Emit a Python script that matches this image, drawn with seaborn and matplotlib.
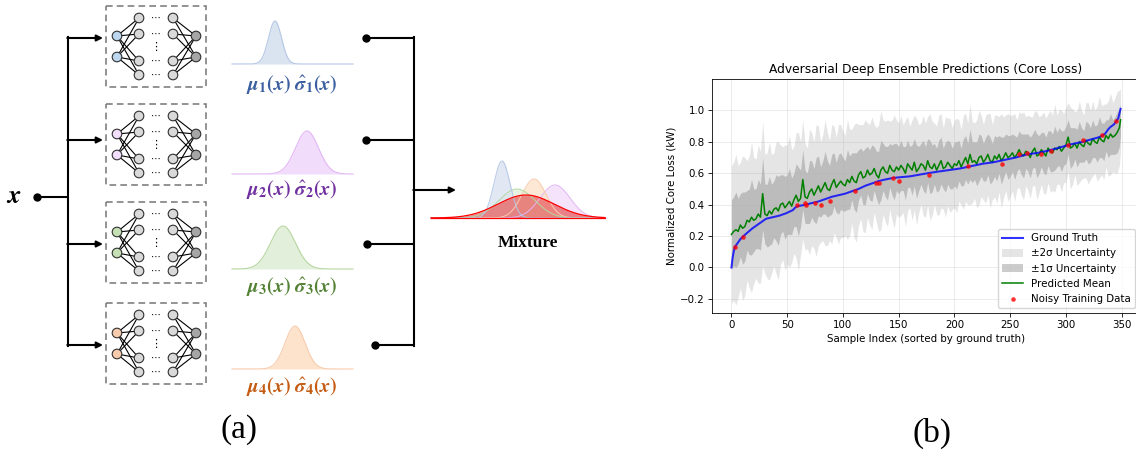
import numpy as np
import matplotlib
matplotlib.use("Agg")
import matplotlib.pyplot as plt
import seaborn as sns
from matplotlib.patches import Circle, Rectangle

# ---------------- data ----------------
sample_idx = list(range(0, 350, 2)) + [349]
pred_mean = [
    0.21, 0.23, 0.24, 0.23, 0.27, 0.25, 0.26, 0.30, 0.29, 0.32, 0.30, 0.31, 0.34, 0.32, 0.47, 0.34, 0.33, 0.36, 0.34, 0.37, 0.38, 0.36, 0.40, 0.41, 0.38,
    0.40, 0.42, 0.39, 0.43, 0.46, 0.42, 0.44, 0.56, 0.45, 0.44, 0.48, 0.50, 0.46, 0.49, 0.52, 0.48, 0.51, 0.54, 0.50, 0.49, 0.53, 0.56, 0.51, 0.53, 0.55,
    0.53, 0.52, 0.56, 0.54, 0.58, 0.55, 0.54, 0.59, 0.61, 0.57, 0.58, 0.62, 0.59, 0.60, 0.63, 0.59, 0.57, 0.62, 0.64, 0.61, 0.60, 0.65, 0.62, 0.61, 0.64,
    0.62, 0.65, 0.63, 0.60, 0.66, 0.64, 0.62, 0.67, 0.61, 0.63, 0.66, 0.65, 0.62, 0.68, 0.64, 0.63, 0.66, 0.62, 0.65, 0.68, 0.63, 0.64, 0.67, 0.65, 0.63,
    0.66, 0.65, 0.68, 0.64, 0.67, 0.70, 0.66, 0.72, 0.67, 0.68, 0.66, 0.70, 0.71, 0.67, 0.69, 0.72, 0.68, 0.67, 0.71, 0.69, 0.72, 0.68, 0.70, 0.73, 0.70,
    0.71, 0.73, 0.70, 0.72, 0.75, 0.72, 0.71, 0.74, 0.73, 0.70, 0.74, 0.76, 0.71, 0.72, 0.75, 0.73, 0.71, 0.76, 0.74, 0.73, 0.76, 0.75, 0.77, 0.74, 0.76,
    0.78, 0.83, 0.76, 0.77, 0.79, 0.76, 0.80, 0.78, 0.77, 0.81, 0.79, 0.78, 0.82, 0.80, 0.79, 0.83, 0.81, 0.80, 0.84, 0.82, 0.85, 0.83, 0.84, 0.86, 0.89,
    0.94]
pred_std = [
    0.22, 0.22, 0.24, 0.21, 0.20, 0.23, 0.22, 0.19, 0.21, 0.24, 0.20, 0.19, 0.22, 0.21, 0.23, 0.19, 0.20, 0.22, 0.19, 0.18, 0.21, 0.22, 0.19, 0.18, 0.20,
    0.19, 0.21, 0.18, 0.17, 0.20, 0.22, 0.18, 0.19, 0.17, 0.16, 0.20, 0.18, 0.17, 0.21, 0.19, 0.16, 0.17, 0.20, 0.18, 0.16, 0.19, 0.17, 0.16, 0.19, 0.18,
    0.17, 0.16, 0.19, 0.17, 0.15, 0.18, 0.19, 0.16, 0.15, 0.17, 0.18, 0.15, 0.16, 0.18, 0.14, 0.15, 0.17, 0.19, 0.15, 0.16, 0.17, 0.14, 0.16, 0.18, 0.15,
    0.15, 0.16, 0.14, 0.17, 0.15, 0.13, 0.16, 0.15, 0.17, 0.14, 0.13, 0.16, 0.15, 0.14, 0.17, 0.15, 0.13, 0.14, 0.16, 0.15, 0.13, 0.16, 0.14, 0.15, 0.13,
    0.14, 0.15, 0.13, 0.12, 0.15, 0.14, 0.13, 0.16, 0.13, 0.12, 0.14, 0.15, 0.13, 0.12, 0.14, 0.13, 0.15, 0.12, 0.13, 0.14, 0.12, 0.15, 0.13, 0.12, 0.14,
    0.13, 0.12, 0.14, 0.11, 0.12, 0.13, 0.14, 0.11, 0.12, 0.13, 0.11, 0.12, 0.14, 0.12, 0.11, 0.13, 0.12, 0.11, 0.13, 0.12, 0.14, 0.11, 0.12, 0.13, 0.11,
    0.12, 0.11, 0.13, 0.12, 0.10, 0.12, 0.13, 0.11, 0.10, 0.12, 0.13, 0.11, 0.12, 0.10, 0.12, 0.13, 0.11, 0.12, 0.10, 0.12, 0.13, 0.11, 0.12, 0.13, 0.12,
    0.10]
gt_idx = [0, 1, 2, 3, 4, 6, 8, 10, 14, 19, 25, 31, 37, 43, 49, 55, 57, 59, 63, 67, 72, 78, 84, 90, 96, 102, 108,
          114, 120, 126, 132, 138, 145, 152, 160, 168, 176, 185, 195, 205, 215, 225, 235, 245, 255, 265, 275,
          285, 295, 305, 315, 325, 330, 335, 338, 340, 343, 345, 347, 348, 349]
gt_val = [0.00, 0.06, 0.10, 0.13, 0.14, 0.16, 0.18, 0.195, 0.22, 0.25, 0.28, 0.31, 0.32, 0.33, 0.345, 0.365, 0.38,
          0.39, 0.395, 0.40, 0.41, 0.42, 0.435, 0.45, 0.46, 0.47, 0.485, 0.50, 0.52, 0.535, 0.55, 0.56, 0.57,
          0.575, 0.58, 0.59, 0.60, 0.61, 0.62, 0.63, 0.645, 0.66, 0.67, 0.685, 0.70, 0.72, 0.73, 0.745, 0.765,
          0.785, 0.80, 0.82, 0.83, 0.85, 0.88, 0.895, 0.91, 0.93, 0.95, 0.98, 1.01]
noisy_idx = [3.5, 10.5, 59, 66, 67, 75, 80, 88, 111, 130, 132, 145, 150, 177, 212, 243, 258, 265, 278, 287, 302, 315, 332, 345]
noisy_val = [0.13, 0.195, 0.40, 0.41, 0.40, 0.41, 0.40, 0.42, 0.485, 0.54, 0.54, 0.57, 0.55, 0.59, 0.645, 0.66, 0.72,
             0.73, 0.72, 0.74, 0.78, 0.81, 0.845, 0.93]

# diagram content
member_ids = [1, 2, 3, 4]
member_colors = ["#3b5ea0", "#7030a0", "#548235", "#c55a11"]
input_node_colors = ["#bdd7ee", "#f2ddfb", "#c5e0b4", "#f8cbad"]
gauss_fill = ["#dae3f0", "#f2dcfb", "#e2efda", "#fde3cc"]
gauss_edge = ["#b4c7e7", "#e2b6f4", "#b5d7a0", "#f8cbad"]
gauss_mu = [275, 307, 283, 295]
gauss_sigma = [6.5, 11.5, 12.5, 10]
mix_mu = [502, 555, 517, 534]
mix_sigma = [8, 15, 18, 12]
mix_height = [57, 33, 29, 39]
mixture_mu, mixture_sigma, mixture_height = 526, 28, 23

# ---------------- figure ----------------
plt.rcParams["mathtext.fontset"] = "stix"
fig = plt.figure(figsize=(11.36, 4.59), dpi=100)
ax0 = fig.add_axes([0, 0, 1, 1])
ax0.set_xlim(0, 1136)
ax0.set_ylim(459, 0)
ax0.axis("off")

serif = "Liberation Serif"

# input x
ax0.text(14, 196, r"$\mathbfit{x}$", fontsize=19, ha="center", va="center")
ax0.plot([37, 68], [197, 197], color="black", lw=1.5, solid_capstyle="butt")
ax0.plot([37], [197], "o", color="black", ms=5)
branch_y = [38, 140, 244, 345]
ax0.plot([68, 68], [branch_y[0] - 0.7, branch_y[-1] + 0.7], color="black", lw=1.5)
for y in branch_y:
    ax0.annotate("", xy=(103, y), xytext=(67.3, y),
                 arrowprops=dict(arrowstyle="-|>", lw=1.5, color="black", mutation_scale=9, shrinkA=0, shrinkB=0))

# ensemble members (boxes with small networks)
box_tops = [6, 104, 202, 303]
hid_dy = [12, 28, 55, 69]
in_dy = [30, 51]
r = 4.8
for k, t in enumerate(box_tops):
    ax0.add_patch(Rectangle((106, t), 100, 81, fill=False, ec="#808080", lw=1.2, ls=(0, (4, 2.5))))
    for dy_in in in_dy:
        for dy_h in hid_dy:
            ax0.plot([117, 139], [t + dy_in, t + dy_h], color="black", lw=0.8, zorder=2)
    for dy_out in in_dy:
        for dy_h in hid_dy:
            ax0.plot([173, 196], [t + dy_h, t + dy_out], color="black", lw=0.8, zorder=2)
    for dy_in in in_dy:
        ax0.add_patch(Circle((117, t + dy_in), r, fc=input_node_colors[k], ec="#303030", lw=0.8, zorder=3))
        ax0.add_patch(Circle((196, t + dy_in), r, fc="#a6a6a6", ec="#303030", lw=0.8, zorder=3))
    for dy_h in hid_dy:
        ax0.add_patch(Circle((139, t + dy_h), r, fc="#d9d9d9", ec="#303030", lw=0.8, zorder=3))
        ax0.add_patch(Circle((173, t + dy_h), r, fc="#d9d9d9", ec="#303030", lw=0.8, zorder=3))
        ax0.text(156, t + dy_h, "⋯", fontsize=7, ha="center", va="center")
    ax0.text(156, t + 41, "⋮", fontsize=8, ha="center", va="center")

# per-member gaussians and labels
base_y = [64, 174, 269, 369]
label_y = [85, 190, 287, 387]
gx = np.linspace(232, 353, 400)
for k in range(4):
    curve = base_y[k] - 43 * np.exp(-0.5 * ((gx - gauss_mu[k]) / gauss_sigma[k]) ** 2)
    ax0.fill_between(gx, base_y[k], curve, color=gauss_fill[k], lw=0)
    ax0.plot(gx, curve, color=gauss_edge[k], lw=0.8)
    i = member_ids[k]
    lab = (r"$\mathbfit{\mu}_{\mathbf{%d}}\mathbf{(}\mathbfit{x}\mathbf{)}\ "
           r"\hat{\mathbfit{\sigma}}_{\mathbf{%d}}\mathbf{(}\mathbfit{x}\mathbf{)}$" % (i, i))
    ax0.text(292, label_y[k], lab, fontsize=14.5, color=member_colors[k], ha="center", va="center")

# aggregation
tap_x = [366, 366, 367, 375]
for y, xx in zip(branch_y, tap_x):
    ax0.plot([xx, 414], [y, y], color="black", lw=1.5, solid_capstyle="butt")
    ax0.plot([xx], [y], "o", color="black", ms=5)
ax0.plot([414, 414], [branch_y[0] - 0.7, branch_y[-1] + 0.7], color="black", lw=1.5)
ax0.annotate("", xy=(456, 190), xytext=(413.3, 190),
             arrowprops=dict(arrowstyle="-|>", lw=1.5, color="black", mutation_scale=9, shrinkA=0, shrinkB=0))

# mixture
mx = np.linspace(431, 605, 500)
mb = 218
for k in [1, 3, 2, 0]:
    c = mb - mix_height[k] * np.exp(-0.5 * ((mx - mix_mu[k]) / mix_sigma[k]) ** 2)
    ax0.fill_between(mx, mb, c, color=gauss_fill[k], alpha=0.8, lw=0)
    ax0.plot(mx, c, color=gauss_edge[k], lw=0.8, alpha=0.9)
cm = mb - mixture_height * np.exp(-0.5 * ((mx - mixture_mu) / mixture_sigma) ** 2)
ax0.fill_between(mx, mb, cm, color="#e85858", alpha=0.7, lw=0)
ax0.plot(mx, cm, color="red", lw=0.9)
ax0.plot([431, 605], [mb, mb], color="red", lw=0.9)
ax0.text(528, 243, "Mixture", fontsize=12.5, fontweight="bold", family=serif, ha="center", va="center")

ax0.text(239, 430, "(a)", fontsize=24, family=serif, ha="center", va="center")
ax0.text(932, 433, "(b)", fontsize=24, family=serif, ha="center", va="center")

# ---------------- chart (b) ----------------
s = 0.735
rc = {
    "font.size": 10 * s,
    "axes.linewidth": 0.8 * s,
    "xtick.major.size": 3.5 * s, "ytick.major.size": 3.5 * s,
    "xtick.major.width": 0.8 * s, "ytick.major.width": 0.8 * s,
    "xtick.major.pad": 3.5 * s, "ytick.major.pad": 3.5 * s,
    "axes.titlepad": 6 * s, "axes.labelpad": 4 * s,
    "legend.fontsize": 10 * s,
}
plt.rcParams.update(rc)

ax = fig.add_axes([712 / 1136, 1 - 313 / 459, (1140 - 712) / 1136, (313 - 79) / 459])
mean = np.array(pred_mean)
std = np.array(pred_std)

sns.lineplot(x=gt_idx, y=gt_val, ax=ax, color="blue", alpha=0.8, lw=2 * s, label="Ground Truth", zorder=4)
ax.fill_between(sample_idx, mean - 2 * std, mean + 2 * std, color="gray", alpha=0.2, lw=0, label="±2σ Uncertainty")
ax.fill_between(sample_idx, mean - std, mean + std, color="gray", alpha=0.4, lw=0, label="±1σ Uncertainty")
sns.lineplot(x=sample_idx, y=pred_mean, ax=ax, color="green", lw=1.5 * s, label="Predicted Mean", zorder=3)
sns.scatterplot(x=noisy_idx, y=noisy_val, ax=ax, color="red", s=20 * s * s, alpha=0.8, linewidth=0,
                label="Noisy Training Data", zorder=5)

ax.set_xlim(-17.45, 366.45)
ax.set_ylim(-0.29, 1.2)
ax.set_xticks([0, 50, 100, 150, 200, 250, 300, 350])
ax.set_yticks([-0.2, 0.0, 0.2, 0.4, 0.6, 0.8, 1.0])
ax.grid(True, alpha=0.3, lw=0.8 * s)
ax.set_title("Adversarial Deep Ensemble Predictions (Core Loss)", fontsize=12 * s)
ax.set_xlabel("Sample Index (sorted by ground truth)", fontsize=10 * s)
ax.set_ylabel("Normalized Core Loss (kW)", fontsize=10 * s)
ax.tick_params(labelsize=10 * s)
ax.legend(loc="lower right", fontsize=10 * s)

fig.savefig("out.png", dpi=100)
